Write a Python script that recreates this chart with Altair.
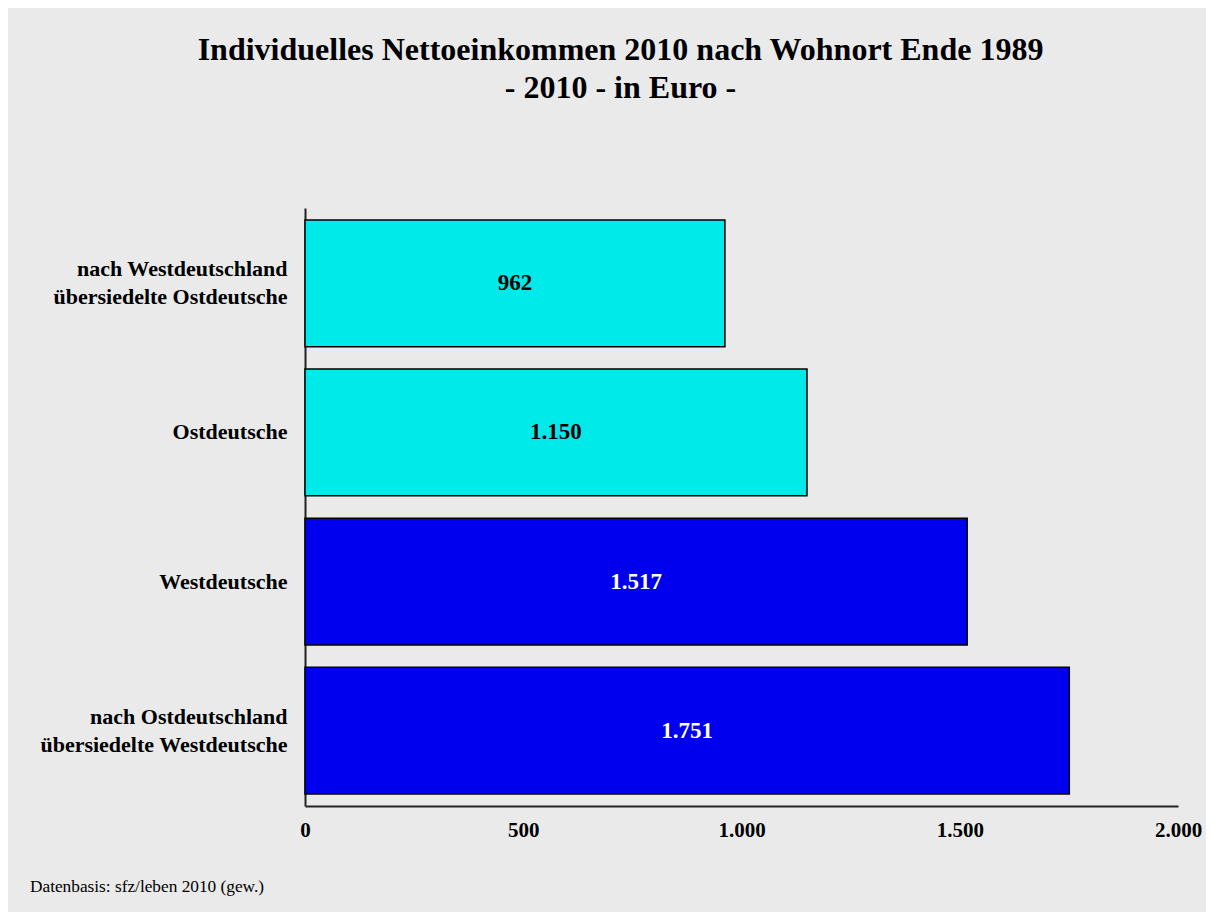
import altair as alt
import pandas as pd

categories = [
    "nach Westdeutschland\nübersiedelte Ostdeutsche",
    "Ostdeutsche",
    "Westdeutsche",
    "nach Ostdeutschland\nübersiedelte Westdeutsche",
]
values = [962, 1150, 1517, 1751]
bar_colors = ["#00EAEA", "#00EAEA", "#0000EE", "#0000EE"]
label_colors = ["black", "black", "white", "white"]
x_ticks = [0, 500, 1000, 1500, 2000]
title_lines = ["Individuelles Nettoeinkommen 2010 nach Wohnort Ende 1989", "- 2010 - in Euro -"]
footer_text = "Datenbasis: sfz/leben 2010 (gew.)"

FONT = "Liberation Serif"

df = pd.DataFrame({"cat": categories, "value": values, "color": bar_colors, "tcolor": label_colors})
df["label"] = [f"{v:,}".replace(",", ".") for v in values]

base = alt.Chart(df)

y_enc = alt.Y(
    "cat:N",
    sort=categories,
    scale=alt.Scale(paddingInner=0.15, paddingOuter=0.08),
    axis=alt.Axis(
        title=None,
        labelExpr="split(datum.label, '\\n')",
        labelFont=FONT,
        labelFontSize=22,
        labelFontWeight="bold",
        labelColor="black",
        labelPadding=18,
        labelLineHeight=28,
        labelLimit=500,
        labelOffset={"condition": {"test": "indexof(datum.value, '\\n') >= 0", "value": -14}, "value": 0},
        ticks=False,
        domainColor="#222222",
        domainWidth=2,
    ),
)

x_enc = alt.X(
    "value:Q",
    scale=alt.Scale(domain=[0, 2000], nice=False),
    axis=alt.Axis(
        title=None,
        values=x_ticks,
        labelExpr="replace(format(datum.value, ','), ',', '.')",
        labelFont=FONT,
        labelFontSize=21,
        labelFontWeight="bold",
        labelColor="black",
        labelPadding=13,
        labelFlush=False,
        labelOverlap=False,
        grid=False,
        ticks=False,
        domainColor="#222222",
        domainWidth=2,
    ),
)

bars = base.mark_bar(stroke="black", strokeWidth=1.5).encode(
    x=x_enc,
    y=y_enc,
    color=alt.Color("color:N", scale=None),
)

texts = base.transform_calculate(mid="datum.value / 2").mark_text(
    font=FONT, fontSize=23, fontWeight="bold", align="center", baseline="middle"
).encode(
    x=alt.X("mid:Q"),
    y=alt.Y("cat:N", sort=categories),
    text="label:N",
    color=alt.Color("tcolor:N", scale=None),
)

footer = alt.Chart(pd.DataFrame({"t": [footer_text]})).mark_text(
    font=FONT, fontSize=17.3, align="left", baseline="middle", color="black"
).encode(
    x=alt.value(-275),
    y=alt.value(679),
    text="t:N",
)

chart = (
    alt.layer(bars, texts, footer)
    .properties(
        width=873,
        height=598,
        autosize=alt.AutoSizeParams(type="none"),
        padding={"left": 297, "top": 200, "right": 28, "bottom": 106},
        title=alt.TitleParams(
            text=title_lines,
            font=FONT,
            fontSize=32,
            fontWeight="bold",
            color="black",
            anchor="middle",
            dx=-121,
            offset=103,
            lineHeight=38,
        ),
    )
    .configure(background="#EAEAEA")
    .configure_view(stroke=None)
)

chart.save("out.html", embed_options={"renderer": "svg", "actions": False})
